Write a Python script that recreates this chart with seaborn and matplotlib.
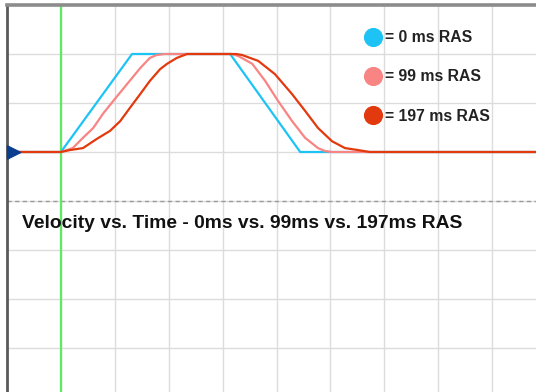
import matplotlib
matplotlib.use("Agg")
import matplotlib.pyplot as plt
from matplotlib.lines import Line2D
from matplotlib.path import Path
import numpy as np
import pandas as pd
import seaborn as sns

# ---- data (time and velocity in screen divisions) ----
blue_t = [0.0, 1.00, 2.32, 4.14, 5.44, 10.3]
blue_v = [1.0, 1.00, 3.00, 3.00, 1.00, 1.0]

pink_t = [0.0, 1.00, 1.22, 1.41, 1.60, 1.78, 1.97, 2.23, 2.47, 2.65, 2.78, 2.93,
          4.17, 4.29, 4.55, 4.79, 5.03, 5.29, 5.53, 5.77, 5.90, 6.03, 10.3]
pink_v = [1.0, 1.00, 1.08, 1.29, 1.49, 1.78, 2.04, 2.39, 2.71, 2.92, 2.98, 3.00,
          3.00, 2.96, 2.80, 2.45, 2.04, 1.63, 1.29, 1.08, 1.02, 1.00, 1.0]

red_t = [0.0, 1.00, 1.17, 1.41, 1.67, 1.91, 2.10, 2.28, 2.47, 2.65, 2.84, 2.97, 3.15, 3.34,
         4.25, 4.36, 4.66, 4.97, 5.29, 5.53, 5.77, 6.03, 6.27, 6.51, 6.73, 10.3]
red_v = [1.0, 1.00, 1.04, 1.08, 1.27, 1.43, 1.63, 1.90, 2.18, 2.45, 2.69, 2.80, 2.92, 3.00,
         3.00, 2.98, 2.86, 2.59, 2.18, 1.84, 1.49, 1.22, 1.08, 1.04, 1.00, 1.0]

series_names = ["0 ms RAS", "99 ms RAS", "197 ms RAS"]
series_colors = ["#1EC3F5", "#F98484", "#E3390E"]
trigger_time = 1.0
level_marker = 1.0
title_text = "Velocity vs. Time - 0ms vs. 99ms vs. 197ms RAS"

frames = []
for name, t, v in zip(series_names, [blue_t, pink_t, red_t], [blue_v, pink_v, red_v]):
    frames.append(pd.DataFrame({"time": t, "velocity": v, "series": name}))
df = pd.concat(frames, ignore_index=True)

sns.set_style("white")
plt.rcParams["font.family"] = ["Liberation Sans", "DejaVu Sans"]

W, H = 536, 392
fig = plt.figure(figsize=(W / 100, H / 100), dpi=100)
# oscilloscope screen: 10 x 8 divisions, partially cropped at right/bottom
ax = fig.add_axes([7 / W, -5 / H, 539 / W, 392 / H])
ax.set_xlim(0, 10)
ax.set_ylim(-4, 4)

ax.set_xticks(np.arange(0, 11))
ax.set_yticks(np.arange(-4, 5))
ax.set_xticklabels([])
ax.set_yticklabels([])
ax.tick_params(length=0)
ax.grid(True, color="#DCDCDC", lw=1.0)
ax.set_axisbelow(True)
ax.axhline(0, color="#9A9A9A", lw=1.0, ls=(0, (3, 2.5)), zorder=1)
ax.axvline(trigger_time, color="#5DEB5D", lw=1.6, zorder=2)

for s in ["right", "bottom"]:
    ax.spines[s].set_visible(False)
ax.spines["left"].set_color("#5A5A5A")
ax.spines["left"].set_linewidth(2.0)
ax.spines["top"].set_color("#8C8C8C")
ax.spines["top"].set_linewidth(2.6)

sns.lineplot(data=df, x="time", y="velocity", hue="series", hue_order=series_names,
             palette=series_colors, sort=False, estimator=None, units="series",
             lw=1.6, legend=False, ax=ax, zorder=3)
ax.set_xlabel("")
ax.set_ylabel("")

tri = Path([(0, -0.5), (1, 0), (0, 0.5), (0, -0.5)],
           [Path.MOVETO, Path.LINETO, Path.LINETO, Path.CLOSEPOLY])
ax.plot([0], [level_marker], marker=tri, ms=19, color="#0B3E8E", ls="",
        clip_on=False, zorder=5)

handles = [Line2D([], [], marker="o", ls="", ms=13.8, color=c, markeredgewidth=0)
           for c in series_colors]
labels = ["= " + n for n in series_names]
fig.legend(handles, labels, loc="upper left", bbox_to_anchor=(363.5 / W, 1 - 30 / H),
           frameon=False, borderpad=0, borderaxespad=0, handlelength=1.24,
           handletextpad=0.12, labelspacing=1.55,
           prop={"size": 11.3, "weight": "bold"}, labelcolor="#222222")

fig.text(22 / W, 1 - 224 / H, title_text, fontsize=13.9, fontweight="bold",
         color="#111111", va="center", ha="left")

fig.savefig("out.png", dpi=100)
